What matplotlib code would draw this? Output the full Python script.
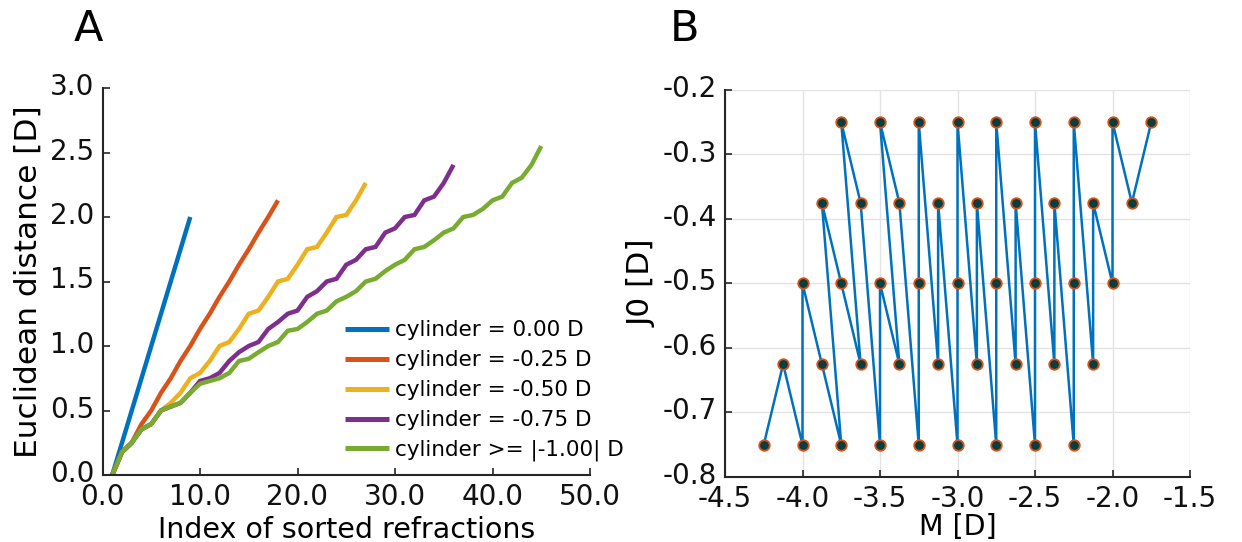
import matplotlib
matplotlib.use("Agg")
import matplotlib.pyplot as plt
import matplotlib.transforms as mtransforms

plt.rcParams['font.family'] = ['DejaVu Sans']
plt.rcParams['axes.unicode_minus'] = False

# ---- Panel A data: Euclidean distance of sorted refractions ----
dist_cyl_000 = [0, 0.25, 0.5, 0.75, 1.0, 1.25, 1.5, 1.75, 2.0]
dist_cyl_025 = [0, 0.177, 0.25, 0.395, 0.5, 0.637, 0.75, 0.884, 1.0, 1.132,
                1.25, 1.381, 1.5, 1.630, 1.75, 1.879, 2.0, 2.129]
dist_cyl_050 = [0, 0.177, 0.25, 0.354, 0.395, 0.5, 0.559, 0.637, 0.75, 0.791,
                0.884, 1.0, 1.031, 1.132, 1.25, 1.275, 1.381, 1.5, 1.521, 1.630,
                1.75, 1.768, 1.879, 2.0, 2.016, 2.129, 2.264]
dist_cyl_075 = [0, 0.177, 0.25, 0.354, 0.395, 0.5, 0.530, 0.559, 0.637, 0.729,
                0.75, 0.791, 0.884, 0.952, 1.0, 1.031, 1.132, 1.186, 1.25, 1.275,
                1.381, 1.425, 1.5, 1.521, 1.630, 1.668, 1.75, 1.768, 1.879, 1.912,
                2.0, 2.016, 2.129, 2.158, 2.264, 2.404]
dist_cyl_100 = [0, 0.177, 0.25, 0.354, 0.395, 0.5, 0.530, 0.559, 0.637, 0.707,
                0.729, 0.75, 0.791, 0.884, 0.901, 0.952, 1.0, 1.031, 1.118, 1.132,
                1.186, 1.25, 1.275, 1.346, 1.381, 1.425, 1.5, 1.521, 1.581, 1.630,
                1.668, 1.75, 1.768, 1.820, 1.879, 1.912, 2.0, 2.016, 2.062, 2.129,
                2.158, 2.264, 2.305, 2.404, 2.550]
series_labels = ["cylinder = 0.00 D", "cylinder = -0.25 D", "cylinder = -0.50 D",
                 "cylinder = -0.75 D", "cylinder >= |-1.00| D"]
series_colors = ["#0072BD", "#D95319", "#EDB120", "#7E2F8E", "#77AC30"]

# ---- Panel B data: M and J0 of sorted refractions ----
M_vals = [-4.25, -4.125, -4.0, -4.0, -3.875, -3.75, -3.875, -3.75, -3.625, -3.75,
          -3.625, -3.5, -3.5, -3.375, -3.5, -3.375, -3.25, -3.25, -3.25, -3.125,
          -3.125, -3.0, -3.0, -3.0, -2.875, -2.875, -2.75, -2.75, -2.75, -2.625,
          -2.625, -2.5, -2.5, -2.5, -2.375, -2.375, -2.25, -2.25, -2.25, -2.125,
          -2.125, -2.0, -2.0, -1.875, -1.75]
J0_vals = [-0.75, -0.625, -0.75, -0.5, -0.625, -0.75, -0.375, -0.5, -0.625, -0.25,
           -0.375, -0.75, -0.5, -0.625, -0.25, -0.375, -0.75, -0.5, -0.25, -0.625,
           -0.375, -0.75, -0.5, -0.25, -0.625, -0.375, -0.75, -0.5, -0.25, -0.625,
           -0.375, -0.75, -0.5, -0.25, -0.625, -0.375, -0.75, -0.5, -0.25, -0.625,
           -0.375, -0.5, -0.25, -0.375, -0.25]

xticks_A = [0, 10, 20, 30, 40, 50]
yticks_A = [0.0, 0.5, 1.0, 1.5, 2.0, 2.5, 3.0]
xticks_B = [-4.5, -4.0, -3.5, -3.0, -2.5, -2.0, -1.5]
yticks_B = [-0.8, -0.7, -0.6, -0.5, -0.4, -0.3, -0.2]

W, H = 1242, 542
fig = plt.figure(figsize=(W / 100, H / 100), dpi=100)

spine_col = "#262626"
tick_fs = 20
xlabel_fs = 20.5
ylabel_fs = 22.5

def px_axes(l, r, t, b):
    return fig.add_axes([l / W, 1 - b / H, (r - l) / W, (b - t) / H])

def lift_yticklabels(ax, px):
    off = mtransforms.ScaledTranslation(0, px / 100, fig.dpi_scale_trans)
    for lab in ax.get_yticklabels():
        lab.set_transform(lab.get_transform() + off)

def style(ax):
    ax.spines['top'].set_visible(False)
    ax.spines['right'].set_visible(False)
    for s in ['left', 'bottom']:
        ax.spines[s].set_color(spine_col)
        ax.spines[s].set_linewidth(1.5)
    ax.tick_params(direction='in', length=5, width=1.2, color=spine_col,
                   labelsize=tick_fs, labelcolor='#111111', pad=6)

# ---------------- Panel A ----------------
axA = px_axes(102.5, 590, 88, 475)
all_series = [dist_cyl_000, dist_cyl_025, dist_cyl_050, dist_cyl_075, dist_cyl_100]
for d, lab, col in zip(all_series, series_labels, series_colors):
    axA.plot(range(1, len(d) + 1), d, color=col, lw=3.2, label=lab,
             solid_capstyle='butt', solid_joinstyle='miter')
axA.set_xlim(0, 50)
axA.set_ylim(0, 3)
axA.set_xticks(xticks_A)
axA.set_xticklabels([f"{v:.1f}" for v in xticks_A])
axA.set_yticks(yticks_A)
axA.set_yticklabels([f"{v:.1f}" for v in yticks_A])
style(axA)
lift_yticklabels(axA, 4)
axA.set_xlabel("Index of sorted refractions", fontsize=xlabel_fs, labelpad=3)
axA.set_ylabel("Euclidean distance [D]", fontsize=ylabel_fs, labelpad=5)
leg = axA.legend(loc='lower left', bbox_to_anchor=(0.497, 0.035), frameon=False,
                 fontsize=15.5, handlelength=2.05, handletextpad=0.28,
                 labelspacing=0.46, borderaxespad=0, borderpad=0)
for h in leg.get_lines():
    h.set_linewidth(3.6)
fig.text(88 / W, 1 - 29 / H, "A", fontsize=31, ha='center', va='center')

# ---------------- Panel B ----------------
axB = px_axes(725, 1190, 90, 477)
axB.plot(M_vals, J0_vals, color="#0072BD", lw=1.8, zorder=2)
axB.plot(M_vals, J0_vals, ls='none', marker='o', ms=7.6,
         markerfacecolor="#0A3D3D", markeredgecolor="#D95319",
         markeredgewidth=1.3, zorder=3)
axB.set_xlim(-4.5, -1.5)
axB.set_ylim(-0.8, -0.2)
axB.set_xticks(xticks_B)
axB.set_xticklabels([f"{v:.1f}" for v in xticks_B])
axB.set_yticks(yticks_B)
axB.set_yticklabels([f"{v:.1f}" for v in yticks_B])
axB.grid(True, color='#E3E3E3', lw=1.0, zorder=0)
axB.set_axisbelow(True)
style(axB)
lift_yticklabels(axB, 4)
axB.set_xlabel("M [D]", fontsize=xlabel_fs, labelpad=0)
axB.set_ylabel("J0 [D]", fontsize=ylabel_fs, labelpad=4)
fig.text(684 / W, 1 - 29 / H, "B", fontsize=31, ha='center', va='center')

fig.savefig("out.png", dpi=100, facecolor='white')
